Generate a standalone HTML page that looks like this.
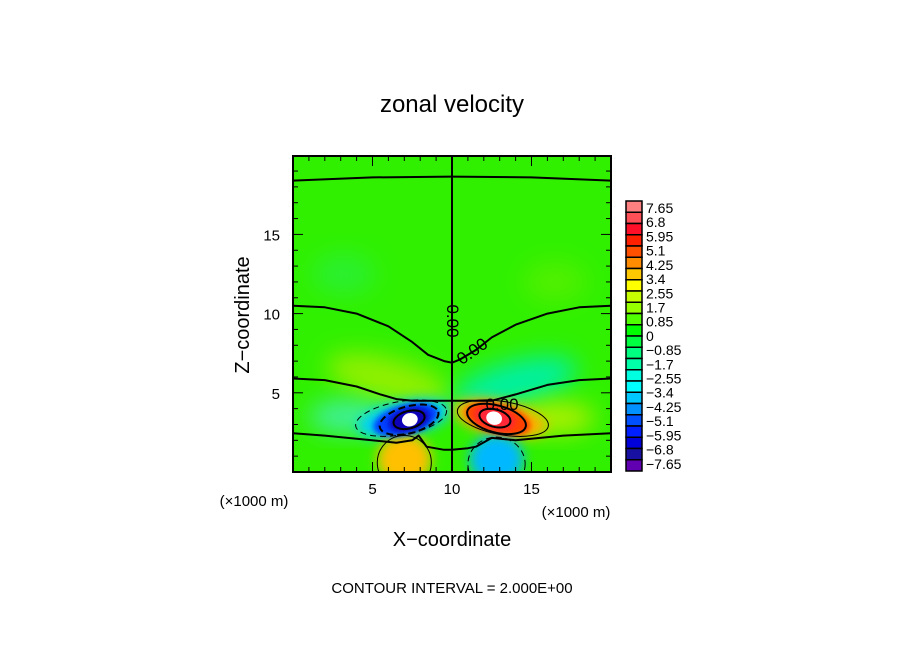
<!DOCTYPE html>
<html><head><meta charset="utf-8">
<style>
body{margin:0;background:#fff;}
svg{display:block;font-family:"Liberation Sans","DejaVu Sans",sans-serif;}
</style></head>
<body>
<svg id="chart" width="904" height="654" viewBox="0 0 904 654">
<defs>
<clipPath id="plotclip"><rect x="293" y="156" width="318" height="316"/></clipPath>
<filter id="blur12" x="-50%" y="-50%" width="200%" height="200%"><feGaussianBlur stdDeviation="12"/></filter>
<filter id="blur6" x="-50%" y="-50%" width="200%" height="200%"><feGaussianBlur stdDeviation="6"/></filter>
<filter id="blur3" x="-50%" y="-50%" width="200%" height="200%"><feGaussianBlur stdDeviation="3"/></filter>
</defs>
<text x="452" y="112" text-anchor="middle" font-size="24">zonal velocity</text>
<g id="field" clip-path="url(#plotclip)"></g>
<g id="contours" clip-path="url(#plotclip)"></g>
<g id="axes"></g>
<g id="colorbar"></g>
<text x="452" y="546" text-anchor="middle" font-size="20">X−coordinate</text>
<text x="0" y="0" transform="translate(249,315) rotate(-90)" text-anchor="middle" font-size="20">Z−coordinate</text>
<text x="254" y="506" text-anchor="middle" font-size="15">(×1000 m)</text>
<text x="576" y="517" text-anchor="middle" font-size="15">(×1000 m)</text>
<text x="452" y="593" text-anchor="middle" font-size="15">CONTOUR INTERVAL = 2.000E+00</text>
</svg>
<script>
const xTicks=[5,10,15];
const zTicks=[5,10,15];
const cbLabels=["7.65","6.8","5.95","5.1","4.25","3.4","2.55","1.7","0.85","0","−0.85","−1.7","−2.55","−3.4","−4.25","−5.1","−5.95","−6.8","−7.65"];
const cbColors=["#ff8080","#ff5058","#ff1028","#ff2000","#ff5000","#ff8c00","#ffc800","#ffff00","#c8ff00","#96ff00","#50ff00","#00ff00","#00ff40","#00ff80","#00ffa8","#00ffe0","#00ffff","#00c8ff","#0090ff","#0050ff","#0020ff","#0000d8","#1810a0","#6000b0"];
const blobX=[3.2,16.5,6.0,14.0,3.5,16.5,7.0,13.0,7.0,12.8,7.1,12.9,7.3,12.7,7.35,12.65];
const blobZ=[12.5,12.0,5.8,5.6,3.5,3.4,3.4,3.4,0.8,0.8,3.3,3.35,3.3,3.4,3.3,3.4];
const blobRx=[2.0,2.0,4.0,4.0,2.5,2.5,3.0,3.0,1.7,1.7,2.1,2.1,1.3,1.3,0.5,0.5];
const blobRz=[1.3,1.3,1.4,1.4,1.0,1.0,1.1,1.1,1.6,1.6,0.95,0.95,0.7,0.7,0.42,0.42];
const blobRot=[0,0,15,-15,0,0,-12,12,0,0,-15,15,-15,15,-15,15];
const blobColor=["#28f060","#70f000","#90f000","#00f0a0","#40f0a0","#b0f000","#00d0f8","#ffb000","#ffc000","#00b8ff","#0040ff","#ff4000","#1000b8","#ff2838","#ffffff","#ffffff"];
const blobBlur=[12,12,12,12,12,12,6,6,6,6,3,3,3,3,1,1];
const blobAlpha=[0.5,0.5,1,1,1,1,1,1,1,1,1,1,1,1,1,1];
const line1X=[0,2,4,6,7.5,8.5,9.5,10,10.5,11.5,12.5,14,16,18,20];
const line1Z=[10.5,10.4,10.0,9.2,8.2,7.4,7.0,6.9,7.1,7.7,8.5,9.3,10.0,10.4,10.5];
const line2X=[0,2,4,5.5,6.5,7.5,10,12.5,14,16,18,20];
const line2Z=[5.9,5.8,5.4,4.9,4.6,4.5,4.5,4.5,4.9,5.5,5.8,5.9];
const line3X=[0,2,4,6.5,7.5,7.9,8.4,9.5,10,11,11.5,12.5,14,17,20];
const line3Z=[2.45,2.3,2.1,1.85,2.0,2.3,1.6,1.4,1.4,1.5,1.6,2.15,2.0,2.3,2.45];
const topX=[0,5,10,15,20];
const topZ=[18.4,18.6,18.65,18.6,18.4];
const NS="http://www.w3.org/2000/svg";
const X0=293,X1=611,Y0=472,Y1=156;
function sx(v){return X0+(X1-X0)*v/20;}
function sz(v){return Y0-(Y0-Y1)*v/19.95;}
function mk(tag,attrs,parent){const e=document.createElementNS(NS,tag);for(const k in attrs)e.setAttribute(k,attrs[k]);parent.appendChild(e);return e;}
const field=document.getElementById('field');
let bg=mk('rect',{x:X0,y:Y1,width:X1-X0,height:Y0-Y1,fill:'#30f000'},field);


for(let i=0;i<blobX.length;i++){
  const cx=sx(blobX[i]),cy=sz(blobZ[i]);
  const e=mk('ellipse',{cx:cx,cy:cy,rx:blobRx[i]*15.9,ry:blobRz[i]*15.85,fill:blobColor[i],opacity:blobAlpha[i],transform:`rotate(${blobRot[i]},${cx},${cy})`},field);
  if(blobBlur[i]>1)e.setAttribute('filter','url(#blur'+blobBlur[i]+')');
  
  
}
const cg=document.getElementById('contours');
function pathFrom(xs,zs){return xs.map((x,i)=>(i?'L':'M')+sx(x).toFixed(1)+','+sz(zs[i]).toFixed(1)).join(' ');}
[[topX,topZ],[line1X,line1Z],[line2X,line2Z],[line3X,line3Z]].forEach(([a,b])=>{
  const p=mk('path',{d:pathFrom(a,b),fill:'none',stroke:'#000','stroke-width':2,'stroke-linejoin':'round'},cg);
  
  
});
let vl=mk('line',{x1:sx(10),y1:Y1,x2:sx(10),y2:Y0,stroke:'#000','stroke-width':2},cg);


const rings=[[6.8,3.4,2.9,1.05,'6 4',1,-10],[7.3,3.3,1.9,0.85,'7 4',2,-15],[7.3,3.3,1.0,0.55,'',2,-15],
[13.2,3.4,2.9,1.05,'',1,10],[12.8,3.35,1.9,0.85,'',2,15],[12.7,3.4,1.0,0.55,'',2,15],
[7.0,0.6,1.7,1.7,'',1,0],[12.8,0.5,1.8,1.7,'6 4',1,0]];
rings.forEach(r=>{
  const cx=sx(r[0]),cy=sz(r[1]);
  const e=mk('ellipse',{cx:cx,cy:cy,rx:r[2]*15.9,ry:r[3]*15.85,fill:'none',stroke:'#000','stroke-width':r[5],'stroke-dasharray':r[4],transform:`rotate(${r[6]},${cx},${cy})`},cg);
  
  
});
const lbls=[[453,321,90,'0.00'],[472,351,-35,'0.00'],[502,404,0,'0.00']];
lbls.forEach(l=>{
  const t=mk('text',{x:l[0],y:l[1]+6,'font-size':17,'text-anchor':'middle',transform:`rotate(${l[2]},${l[0]},${l[1]})`,fill:'#000'},cg);
  t.textContent=l[3];
  
  
});
const ax=document.getElementById('axes');
let fr=mk('rect',{x:X0,y:Y1,width:X1-X0,height:Y0-Y1,fill:'none',stroke:'#000','stroke-width':2},ax);


for(let v=1;v<20;v++){
  const L=v%5===0?10:5;
  mk('line',{x1:sx(v),y1:Y0,x2:sx(v),y2:Y0-L,stroke:'#000'},ax);
  mk('line',{x1:sx(v),y1:Y1,x2:sx(v),y2:Y1+L,stroke:'#000'},ax);
  mk('line',{x1:X0,y1:sz(v),x2:X0+L,y2:sz(v),stroke:'#000'},ax);
  mk('line',{x1:X1,y1:sz(v),x2:X1-L,y2:sz(v),stroke:'#000'},ax);
}
xTicks.forEach(v=>{const t=mk('text',{x:sx(v),y:494,'text-anchor':'middle','font-size':15},ax);t.textContent=v;

});
zTicks.forEach(v=>{const t=mk('text',{x:280,y:sz(v)+6,'text-anchor':'end','font-size':15},ax);t.textContent=v;

});
const cb=document.getElementById('colorbar');
const nBox=cbColors.length, cbTop=201, cbBot=471, boxH=(cbBot-cbTop)/nBox;
for(let i=0;i<nBox;i++){
  const r=mk('rect',{x:626,y:cbTop+i*boxH,width:16,height:boxH,fill:cbColors[i],stroke:'#000','stroke-width':1.5},cb);
  
  
}
const nLab=cbLabels.length, labH=(cbBot-cbTop)/nLab;
for(let i=0;i<nLab;i++){
  const t=mk('text',{x:646,y:cbTop+i*labH+12,'font-size':14},cb);
  t.textContent=cbLabels[i];
  
  
}
</script>
</body></html>
